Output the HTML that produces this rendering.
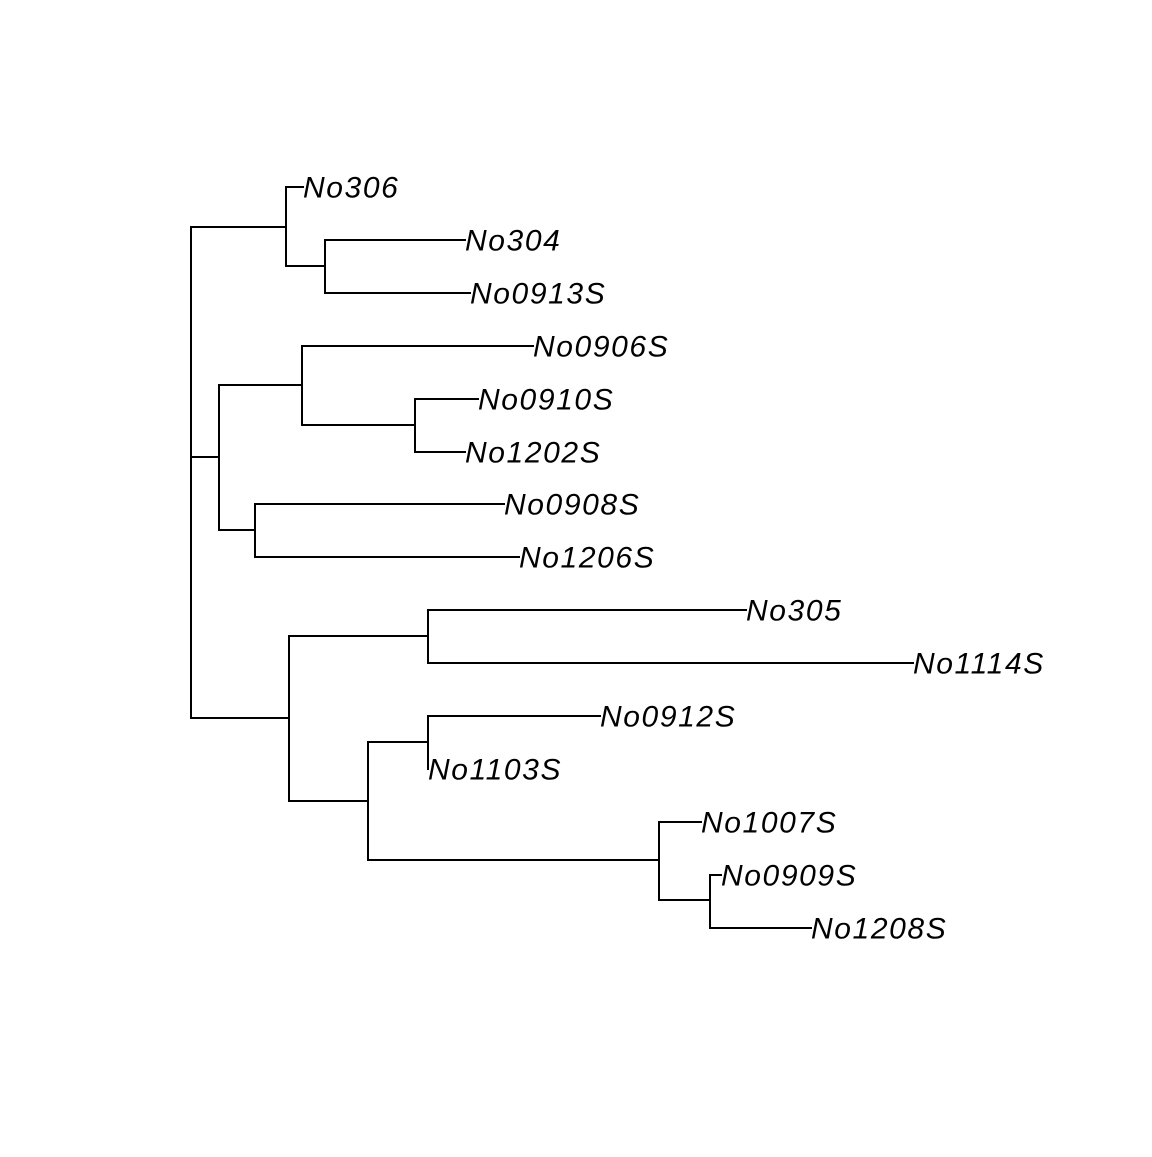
<!DOCTYPE html>
<html><head><style>html,body{margin:0;padding:0;background:#fff}</style></head>
<body>
<svg width="1152" height="1152" viewBox="0 0 1152 1152" xmlns="http://www.w3.org/2000/svg">
<g stroke="#000" stroke-width="2" fill="none" stroke-linecap="square">
<path d="M191 227V718"/>
<path d="M191 227H286M286 187V266M286 187H303M286 266H325M325 240V293M325 240H465M325 293H470"/>
<path d="M191 457H219M219 385V530M219 385H302M302 346V425M302 346H533M302 425H415M415 399V452M415 399H478M415 452H465M219 530H255M255 504V557M255 504H504M255 557H519"/>
<path d="M191 718H289M289 636V801M289 636H428M428 610V663M428 610H746M428 663H913M289 801H368M368 742V860M368 742H428M428 716V769M428 716H600M368 860H659M659 822V900M659 822H701M659 900H710M710 875V928M710 875H721M710 928H811"/>
</g>
<g font-family="Liberation Sans, sans-serif" font-style="italic" font-size="30" letter-spacing="1.6" fill="#000" dominant-baseline="central">
<text x="303" y="188">No306</text>
<text x="465" y="241">No304</text>
<text x="470" y="294">No0913S</text>
<text x="533" y="347">No0906S</text>
<text x="478" y="400">No0910S</text>
<text x="465" y="453">No1202S</text>
<text x="504" y="505">No0908S</text>
<text x="519" y="558">No1206S</text>
<text x="746" y="611">No305</text>
<text x="913" y="664">No1114S</text>
<text x="600" y="717">No0912S</text>
<text x="428" y="770">No1103S</text>
<text x="701" y="823">No1007S</text>
<text x="721" y="876">No0909S</text>
<text x="811" y="929">No1208S</text>
</g>
</svg>
</body></html>
